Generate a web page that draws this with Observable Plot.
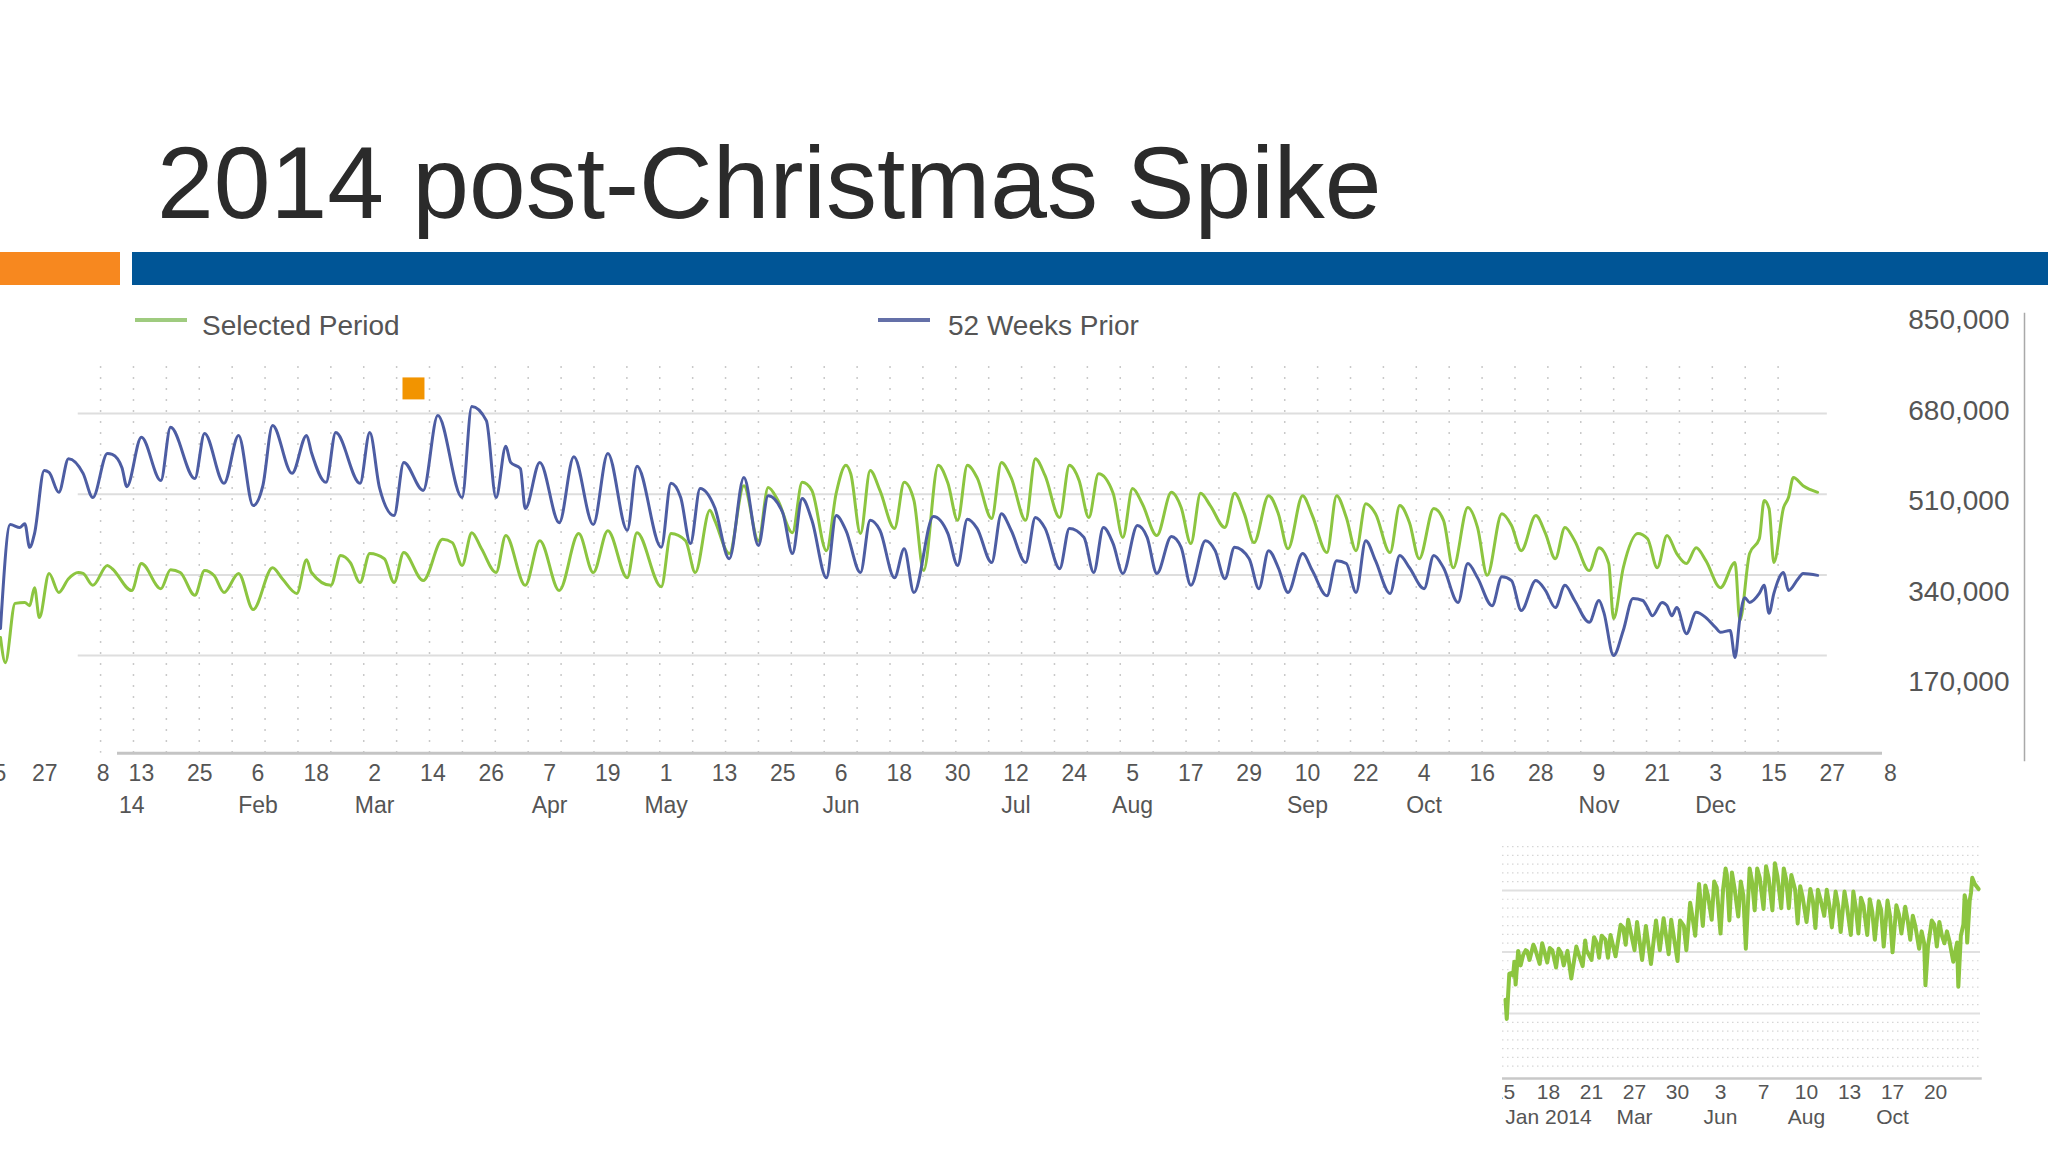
<!DOCTYPE html>
<html><head><meta charset="utf-8">
<script src="https://cdn.jsdelivr.net/npm/d3@7"></script>
<script src="https://cdn.jsdelivr.net/npm/@observablehq/plot@0.6"></script>
<style>
html,body{margin:0;padding:0;background:#fff;}
body{width:2048px;height:1152px;position:relative;overflow:hidden;font-family:"Liberation Sans",Arial,sans-serif;}
.abs{position:absolute;}
#title{left:157px;top:132px;font-size:102px;line-height:102px;color:#2b2b2b;white-space:nowrap;}
#barO{left:0;top:252px;width:120px;height:33px;background:#F7881F;}
#barB{left:132px;top:252px;width:1916px;height:33px;background:#005596;}
.lg-line{height:4px;width:52px;top:318px;}
.lg-text{top:312px;font-size:28px;line-height:28px;color:#555;white-space:nowrap;z-index:3;}
#main{left:0;top:300px;}
#raxis{left:1880px;top:300px;z-index:2;}
#inset{left:1502px;top:830px;z-index:2;}
#inset svg{overflow:hidden;}
svg{background:transparent !important;}
</style>
</head><body>
<div id="title" class="abs">2014 post-Christmas Spike</div>
<div id="barO" class="abs"></div>
<div id="barB" class="abs"></div>
<div id="main" class="abs"></div>
<div id="raxis" class="abs"></div>
<div id="inset" class="abs"></div>
<div class="abs lg-line" style="left:135px;background:#9fcb7f;z-index:3"></div>
<div class="abs lg-text" style="left:202px">Selected Period</div>
<div class="abs lg-line" style="left:878px;background:#6470a8;z-index:3"></div>
<div class="abs lg-text" style="left:948px">52 Weeks Prior</div>
<script>
// ---- data (days since 2013-12-15, values in thousands) ----
const START = Date.UTC(2013, 11, 15);
const dayToDate = d => new Date(START + d * 864e5);

const selectedDays = [
  0,1,3,5,6,7,8,10,12,14,
  16,17,19,22,23,27,29,33,35,37,
  40,42,44,46,49,52,56,58,61,63,
  64,68,70,72,74,76,79,81,83,87,
  91,93,95,97,99,102,104,108,111,115,
  119,122,125,129,131,136,138,141,143,146,
  147,150,153,156,158,160,163,165,167,170,
  172,174,175,177,179,181,184,186,188,190,
  193,195,197,199,201,204,206,208,211,213,
  215,218,220,222,224,226,229,231,233,235,
  238,241,243,245,247,249,252,254,256,258,
  261,263,265,268,270,273,275,277,279,281,
  283,286,288,290,292,295,297,299,302,304,
  306,309,311,313,316,318,320,322,324,327,
  329,331,332,334,337,339,341,343,345,347,
  349,351,354,357,358,360,362,363,364,365,
  367,368,369,371,374];
const selectedK = [
  208,155,280,282,275,313,250,343,303,332,
  345,343,318,360,353,307,364,311,351,345,
  297,349,338,303,343,267,355,332,301,372,
  345,318,381,366,324,385,374,324,387,328,
  415,408,360,429,395,345,423,318,412,307,
  427,345,433,334,429,315,427,412,345,476,
  455,385,528,412,524,497,429,535,518,391,
  512,571,553,427,560,518,438,535,497,349,
  571,533,455,571,545,459,577,545,455,585,
  549,461,571,539,461,553,512,419,522,490,
  423,514,482,406,512,486,440,512,469,408,
  507,469,395,507,465,387,507,461,391,490,
  469,387,486,450,374,480,455,355,482,440,
  339,469,444,391,465,427,374,440,412,349,
  397,364,248,355,427,416,355,423,385,364,
  397,370,313,366,244,385,416,497,480,366,
  482,503,545,528,514];

const priorDays = [
  0,2,4,5,6,7,9,10,12,14,
  17,19,22,23,25,26,29,33,35,40,
  42,46,49,52,54,56,60,63,64,67,
  69,74,76,78,81,83,87,90,95,97,
  100,102,104,105,107,108,111,115,118,122,
  125,129,131,136,138,140,142,144,147,150,
  153,156,158,161,163,165,167,170,172,174,
  177,179,181,184,186,188,192,195,197,199,
  201,204,206,208,211,213,215,218,220,223,
  225,227,229,231,234,236,238,241,243,245,
  248,250,252,254,257,259,261,263,265,268,
  270,273,275,277,279,281,283,286,288,290,
  293,295,297,300,302,304,307,309,311,313,
  316,318,320,322,324,327,329,330,332,334,
  336,338,339,340,342,343,344,345,347,349,
  351,353,354,356,357,358,359,360,362,363,
  364,365,367,368,370,371,374];
const priorK = [
  227,446,440,448,398,427,560,556,514,585,
  554,503,596,594,566,526,630,539,651,543,
  638,533,634,486,528,655,554,634,598,535,
  640,533,640,524,465,577,518,676,503,695,
  665,503,611,577,564,480,577,450,589,446,
  596,434,569,398,533,503,406,522,482,374,
  545,402,507,471,385,501,455,334,465,434,
  345,455,434,334,395,303,463,427,360,457,
  438,366,469,434,366,461,438,353,438,419,
  345,440,406,343,444,419,343,421,398,318,
  412,391,332,398,374,311,391,355,303,385,
  349,296,370,364,303,412,370,301,381,355,
  311,381,355,282,364,334,275,336,328,265,
  328,307,271,318,286,240,286,261,170,223,
  290,286,271,254,282,275,254,271,216,261,
  250,229,219,223,166,248,292,282,301,318,
  259,301,345,307,332,343,339];

// tick labels: the first three belong to the underlying (offset) chart of the collage
const edgeTickDates = ["2013-12-15"];
const backTickDates = ["2013-12-27","2014-01-08"];
const mainTickDates = ["2014-01-13","2014-01-25","2014-02-06","2014-02-18","2014-03-02","2014-03-14","2014-03-26","2014-04-07","2014-04-19","2014-05-01","2014-05-13","2014-05-25","2014-06-06","2014-06-18","2014-06-30","2014-07-12","2014-07-24","2014-08-05","2014-08-17","2014-08-29","2014-09-10","2014-09-22","2014-10-04","2014-10-16","2014-10-28","2014-11-09","2014-11-21","2014-12-03","2014-12-15","2014-12-27","2015-01-08"];
const mainMonthDates = ["2014-01-11","2014-02-06","2014-03-02","2014-04-07","2014-05-01","2014-06-06","2014-07-12","2014-08-05","2014-09-10","2014-10-04","2014-11-09","2014-12-03"];
const mainMonthLabels = ["14","Feb","Mar","Apr","May","Jun","Jul","Aug","Sep","Oct","Nov","Dec"];
const gridValues = [170000, 340000, 510000, 680000];
const rightAxisTicks = [170000, 340000, 510000, 680000, 850000];
const insetEdgeTickDates = ["2013-12-15"];
const insetTickDates = ["2014-01-18","2014-02-21","2014-03-27","2014-04-30","2014-06-03","2014-07-07","2014-08-10","2014-09-13","2014-10-17","2014-11-20"];
const insetMonthDates = ["2014-01-18","2014-03-27","2014-06-03","2014-08-10","2014-10-17"];
const insetMonthLabels = ["Jan 2014","Mar","Jun","Aug","Oct"];
const markerDates = ["2014-03-10"];
const markerValues = [733000];

// ---- build tables ----
const selectedRows = selectedDays.map((d, i) => ({date: dayToDate(d), value: selectedK[i] * 1000}));
const priorRows = priorDays.map((d, i) => ({date: dayToDate(d), value: priorK[i] * 1000}));
const markers = markerDates.map((d, i) => ({date: new Date(d), value: markerValues[i]}));
const dayOfMonth = d => String(new Date(d).getUTCDate());
const FONT = "Liberation Sans, Arial, sans-serif";
const GREEN = "#8cc540", BLUE = "#4d5da3", LABEL = "#555";

const gridDates = d3.range(20.6, 372, 6.77).map(dayToDate);
const tickStyle = {frameAnchor: "bottom", dy: 28, fontSize: 23, fill: LABEL};
const insetTickStyle = {frameAnchor: "bottom", dy: 20, fontSize: 21, fill: LABEL};

const main = Plot.plot({
  width: 2048, height: 540,
  marginTop: 66, marginBottom: 87.3, marginLeft: 118, marginRight: 168,
  style: {fontFamily: FONT, background: "transparent"},
  x: {type: "utc", domain: [dayToDate(0), dayToDate(389)], range: [0, 1890], axis: null},
  y: {domain: [0, 850000], range: [435.7, 32.4], axis: null},
  marks: [
    Plot.gridX(gridDates, {stroke: "#c9c9c9", strokeOpacity: 1, strokeWidth: 1.5, strokeDasharray: "2,9"}),
    Plot.ruleY(gridValues, {x1: dayToDate(16), x2: dayToDate(376), stroke: "#dedede", strokeWidth: 2}),
    Plot.frame({anchor: "bottom", stroke: "#c4c4c4", strokeWidth: 3}),
    Plot.line(selectedRows, {x: "date", y: "value", stroke: GREEN, strokeWidth: 3, curve: "monotone-x", strokeLinejoin: "round"}),
    Plot.line(priorRows, {x: "date", y: "value", stroke: BLUE, strokeWidth: 3, curve: "monotone-x", strokeLinejoin: "round"}),
    Plot.dot(markers, {x: "date", y: "value", symbol: "square", r: 12.4, fill: "#F29400", stroke: "none"}),
    Plot.text(edgeTickDates, {x: d => new Date(d), text: dayOfMonth, ...tickStyle, dx: -7}),
    Plot.text(backTickDates, {x: d => new Date(d), text: dayOfMonth, ...tickStyle, dx: -14}),
    Plot.text(mainTickDates, {x: d => new Date(d), text: dayOfMonth, ...tickStyle}),
    Plot.text(mainMonthDates, {x: d => new Date(d), text: (d, i) => mainMonthLabels[i], frameAnchor: "bottom", dy: 60, fontSize: 23, fill: LABEL})
  ]
});
document.getElementById("main").append(main);

const raxis = Plot.plot({
  width: 168, height: 480,
  marginTop: 13, marginBottom: 20, marginLeft: 0, marginRight: 24,
  style: {fontFamily: FONT, background: "transparent"},
  x: {domain: [0, 1], range: [0, 144], axis: null},
  y: {domain: [0, 850000], range: [472.5, 20], axis: null},
  marks: [
    Plot.frame({anchor: "right", stroke: "#a9a9a9", strokeWidth: 1.5}),
    Plot.text(rightAxisTicks, {y: d => d, frameAnchor: "right", dx: -15, text: d3.format(","), textAnchor: "end", fontSize: 28, fill: LABEL})
  ]
});
document.getElementById("raxis").append(raxis);

const insetMinor = d3.range(1, 27).map(i => i * 170000 / 7).filter(v => v < 642600 && v % 170000 > 1);
const inset = Plot.plot({
  width: 546, height: 322,
  marginTop: 12, marginBottom: 74, marginLeft: 0, marginRight: 68,
  style: {fontFamily: FONT, background: "transparent"},
  x: {type: "utc", domain: [dayToDate(0), dayToDate(373)], range: [3, 474.8], axis: null},
  y: {domain: [0, 642600], range: [244.5, 12], axis: null},
  marks: [
    Plot.ruleY(insetMinor, {stroke: "#d6d6d6", strokeDasharray: "1.5,3.5", strokeWidth: 1.2}),
    Plot.ruleY([170000, 340000, 510000], {stroke: "#e0e0e0", strokeWidth: 2}),
    Plot.frame({anchor: "bottom", stroke: "#c8c8c8", strokeWidth: 2.5}),
    Plot.line(selectedRows, {x: "date", y: "value", stroke: GREEN, strokeWidth: 4, strokeLinejoin: "round"}),
    Plot.text(insetEdgeTickDates, {x: d => new Date(d), text: dayOfMonth, ...insetTickStyle, dx: -2}),
    Plot.text(insetTickDates, {x: d => new Date(d), text: dayOfMonth, ...insetTickStyle}),
    Plot.text(insetMonthDates, {x: d => new Date(d), text: (d, i) => insetMonthLabels[i], frameAnchor: "bottom", dy: 45, fontSize: 21, fill: LABEL})
  ]
});
document.getElementById("inset").append(inset);
</script>
</body></html>
